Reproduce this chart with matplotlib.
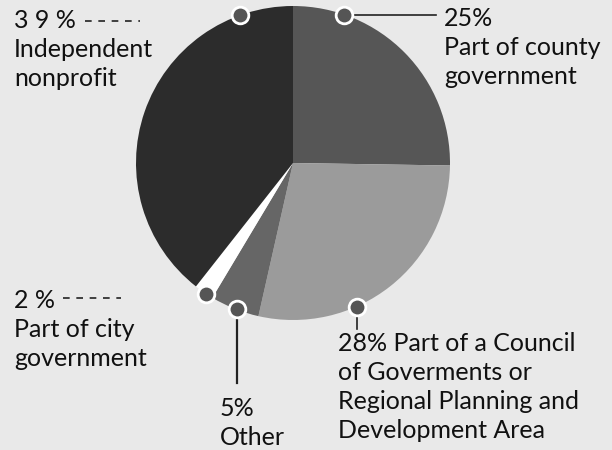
import numpy as np
import matplotlib
matplotlib.use("Agg")
import matplotlib.pyplot as plt

# Data
categories = ["Part of county government",
              "Part of a Council of Goverments or Regional Planning and Development Area",
              "Other", "Part of city government", "Independent nonprofit"]
values = [25, 28, 5, 2, 39]
colors = ["#565656", "#9b9b9b", "#666666", "#ffffff", "#2c2c2c"]
dot_frac = [0.79, 0.36, 0.54, 0.64, 0.14]

W, H = 612, 450
fig = plt.figure(figsize=(W / 100, H / 100), dpi=100)
bg = "#e9e9e9"
fig.patch.set_facecolor(bg)
ax = fig.add_axes([0, 0, 1, 1])
ax.set_facecolor(bg)

cx, cy, R = 293, 163, 157
wedges, _ = ax.pie(values, colors=colors, startangle=90, counterclock=False,
                   center=(cx, H - cy), radius=R, wedgeprops=dict(linewidth=0))
ax.set_xlim(0, W)
ax.set_ylim(0, H)
ax.set_aspect("equal")
ax.axis("off")

def py(y):
    return H - y

# dots on wedge rims
dots = []
for w, f in zip(wedges, dot_frac):
    a = np.deg2rad(w.theta1 + f * (w.theta2 - w.theta1))
    x = cx + R * np.cos(a)
    y = (H - cy) + R * np.sin(a)
    dots.append((x, y))

lc = "#222222"
ax.plot([dots[0][0], 436], [dots[0][1], dots[0][1]], color=lc, lw=1.2, zorder=3)
ax.plot([dots[1][0], dots[1][0]], [dots[1][1], py(329)], color=lc, lw=1.2, zorder=3)
ax.plot([dots[2][0], dots[2][0]], [dots[2][1], py(383)], color=lc, lw=1.6, zorder=3)
ax.plot([63, 121], [py(298), py(298)], color=lc, lw=1.2, ls=(0, (4, 4)), zorder=3)
ax.plot([85, 140], [py(21), py(21)], color=lc, lw=1.2, ls=(0, (4, 4)), zorder=3)

for (x, y) in dots:
    ax.plot(x, y, "o", ms=12, mfc="#555555", mec="white", mew=2, zorder=5)

fam = ["Lato", "DejaVu Sans"]
fs = 18
tc = "#111111"
kw = dict(fontsize=fs, family=fam, color=tc, linespacing=1.32, va="top", ha="left")
ax.text(14, py(9), "3 9 %\nIndependent\nnonprofit", **kw)
ax.text(444, py(7), "25%\nPart of county\ngovernment", **kw)
ax.text(14, py(289), "2 %\nPart of city\ngovernment", **kw)
ax.text(220, py(397), "5%\nOther", **kw)
ax.text(338, py(332), "28% Part of a Council\nof Goverments or\nRegional Planning and\nDevelopment Area", **kw)

fig.savefig("out.png", dpi=100, facecolor=bg)
